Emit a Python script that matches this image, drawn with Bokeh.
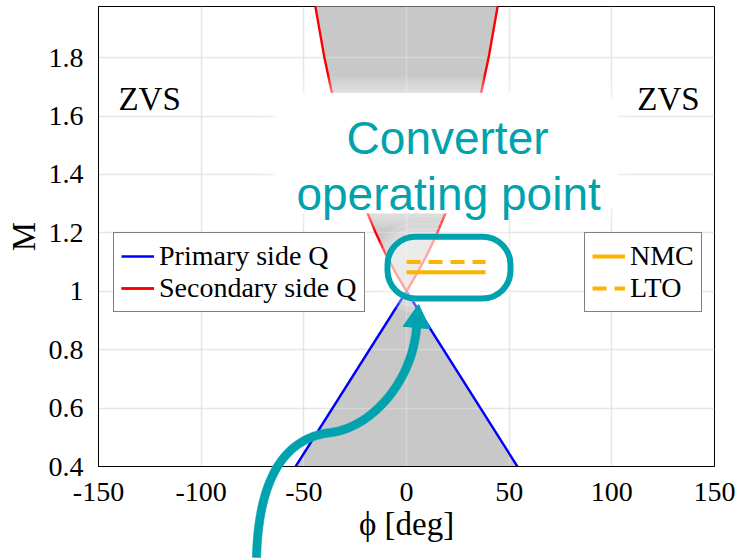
import numpy as np
from bokeh.plotting import figure
from bokeh.models import (Range1d, FixedTicker, Legend, LegendItem, BoxAnnotation,
                          Label, GridBox, Column)
from bokeh.embed import file_html
from bokeh.resources import INLINE

# ZVS boundary of the primary-side bridge (phase shift in deg vs. voltage ratio M)
primary_phi = [-54, 0, 54]
primary_M = [0.40, 1.00, 0.40]

# ZVS boundary of the secondary-side bridge (right branch; the left one is mirrored)
secondary_phi = [0, 5, 10, 15, 20, 25, 30, 35, 40, 44.5]
secondary_M = [1.00, 1.06, 1.125, 1.20, 1.285, 1.385, 1.50, 1.635, 1.80, 1.98]

# operating ranges of the two battery chemistries
nmc_phi = [0, 38.5]
nmc_M = [1.065, 1.065]
lto_phi = [0, 38.5]
lto_M = [1.10, 1.10]

x_ticks = [-150, -100, -50, 0, 50, 100, 150]
x_tick_labels = ["-150", "-100", "-50", "0", "50", "100", "150"]
y_ticks = [0.4, 0.6, 0.8, 1.0, 1.2, 1.4, 1.6, 1.8]
y_tick_labels = ["0.4", "0.6", "0.8", "1", "1.2", "1.4", "1.6", "1.8"]

region_text = ["ZVS", "ZVS"]
region_phi = [-140.3, 112.4]
region_M = [1.66, 1.66]

X_RANGE = (-150, 150)
Y_RANGE = (0.4, 1.975)

TEAL = "#00A3AD"
ORANGE = "#FFB300"
GREY = "#C8C8C8"
SERIF = "Liberation Serif"
SANS = "Liberation Sans"

W, H = 742, 559
BORDER_L, BORDER_R, BORDER_T, BORDER_B = 98, 28, 6, 93
FRAME_W = W - BORDER_L - BORDER_R
FRAME_H = H - BORDER_T - BORDER_B
SX = FRAME_W / (X_RANGE[1] - X_RANGE[0])   # px per degree
SY = FRAME_H / (Y_RANGE[1] - Y_RANGE[0])   # px per unit of M

p = figure(width=W, height=H, x_range=Range1d(*X_RANGE), y_range=Range1d(*Y_RANGE),
           output_backend="svg", toolbar_location=None,
           min_border_left=BORDER_L, min_border_right=BORDER_R,
           min_border_top=BORDER_T, min_border_bottom=BORDER_B)
p.background_fill_color = "white"
p.border_fill_color = "white"
p.outline_line_color = "black"
p.outline_line_width = 1

# axes
xa, ya = p.xaxis[0], p.yaxis[0]
xa.ticker = FixedTicker(ticks=x_ticks)
xa.major_label_overrides = dict(zip(x_ticks, x_tick_labels))
ya.ticker = FixedTicker(ticks=y_ticks)
ya.major_label_overrides = dict(zip(y_ticks, y_tick_labels))
for ax in (xa, ya):
    ax.major_tick_line_color = None
    ax.minor_tick_line_color = None
    ax.axis_line_color = "black"
    ax.major_label_text_font = SERIF
    ax.major_label_text_font_size = "28px"
    ax.major_label_text_color = "black"
    ax.axis_label_text_font = SERIF
    ax.axis_label_text_font_style = "normal"
    ax.axis_label_text_color = "black"
    ax.axis_label_text_font_size = "33px"
xa.major_label_standoff = 10
ya.major_label_standoff = 9
xa.axis_label = "ϕ [deg]"
ya.axis_label = "M"
xa.axis_label_standoff = 2
ya.axis_label_standoff = 4

p.grid.grid_line_color = "#DCDCDC"
p.grid.grid_line_alpha = 0.7
p.grid.grid_line_width = 1.5

# shaded (non-ZVS) regions
left_phi = [-v for v in secondary_phi]
upper_x = left_phi[::-1] + secondary_phi[1:]
upper_y = secondary_M[::-1] + secondary_M[1:]
p.patch(upper_x, upper_y, fill_color=GREY, line_color=None, level="image")
p.patch(primary_phi, primary_M, fill_color=GREY, line_color=None, level="image")

# boundaries
r_blue = p.line(primary_phi, primary_M, line_color="blue", line_width=2.4)
r_red_l = p.line(left_phi, secondary_M, line_color="red", line_width=2.4)
r_red_r = p.line(secondary_phi, secondary_M, line_color="red", line_width=2.4)


def px_box(left, right, bottom, top, grow):
    """Box in data units enlarged by `grow` pixels on every side."""
    return dict(left=left - grow / SX, right=right + grow / SX,
                bottom=bottom - grow / SY, top=top + grow / SY)


# soft white halo + callout box
CALL = (-63.8, 103.2, 1.266, 1.680)
for g in (16, 13, 10, 7, 4):
    p.add_layout(BoxAnnotation(**px_box(*CALL, g), fill_color="white", fill_alpha=0.1,
                               line_color=None, line_alpha=0, border_radius=22 + g))
p.add_layout(BoxAnnotation(**px_box(*CALL, 0), fill_color="white", fill_alpha=1.0,
                           line_color=None, line_alpha=0, border_radius=22))
p.add_layout(Label(x=20, y=1.526, text="Converter", text_align="center",
                   text_baseline="alphabetic", text_font=SANS,
                   text_font_size="46px", text_color=TEAL))
p.add_layout(Label(x=20.5, y=1.3346, text="operating point", text_align="center",
                   text_baseline="alphabetic", text_font=SANS,
                   text_font_size="46px", text_color=TEAL))

# halo around the operating-point frame
OP = (-9.25, 50.65, 0.975, 1.187)
for g in (14, 9, 4):
    p.add_layout(BoxAnnotation(**px_box(*OP, g), fill_color="white", fill_alpha=0.18,
                               line_color=None, line_alpha=0, border_radius=28 + g))
p.add_layout(BoxAnnotation(**px_box(*OP, 0), fill_color="white", fill_alpha=0.35,
                           line_color=None, line_alpha=0, border_radius=28))

# region labels
for x, y, txt in zip(region_phi, region_M, region_text):
    p.add_layout(Label(x=x, y=y, text=txt, text_baseline="alphabetic",
                       text_font=SERIF, text_font_size="33px", text_color="black"))

# battery operating lines
r_nmc = p.line(nmc_phi, nmc_M, line_color=ORANGE, line_width=4, level="overlay")
r_lto = p.line(lto_phi, lto_M, line_color=ORANGE, line_width=4, line_dash="14 8",
               level="overlay")

p.add_layout(BoxAnnotation(**px_box(*OP, 0), fill_color=None, fill_alpha=0,
                           line_color=TEAL, line_alpha=1, line_width=6,
                           border_radius=28, level="overlay"))

# legends
leg_common = dict(label_text_font=SERIF, label_text_font_size="28px",
                  label_text_color="black", glyph_width=33, glyph_height=26,
                  label_standoff=5, padding=7, spacing=0, margin=0,
                  border_line_color="black", border_line_width=1.2,
                  background_fill_color="white", background_fill_alpha=1)
leg1 = Legend(items=[LegendItem(label="Primary side Q", renderers=[r_blue]),
                     LegendItem(label="Secondary side Q", renderers=[r_red_l, r_red_r])],
              location=(15, 154), **leg_common)
leg2 = Legend(items=[LegendItem(label="NMC", renderers=[r_nmc]),
                     LegendItem(label="LTO", renderers=[r_lto])],
              location=(486, 154), **leg_common)
p.add_layout(leg1)
p.add_layout(leg2)

# transparent overlay sharing the same data scale, covering the whole canvas,
# so the curved pointer can run past the frame into the axis area
ov = figure(width=W, height=H,
            x_range=Range1d(X_RANGE[0] - BORDER_L / SX, X_RANGE[1] + BORDER_R / SX),
            y_range=Range1d(Y_RANGE[0] - BORDER_B / SY, Y_RANGE[1] + BORDER_T / SY),
            output_backend="svg", toolbar_location=None, min_border=0,
            x_axis_location=None, y_axis_location=None)
ov.grid.visible = False
ov.outline_line_color = None
ov.background_fill_alpha = 0
ov.border_fill_alpha = 0


def to_px(pt):
    return np.array([(pt[0] - X_RANGE[0]) * SX, (pt[1] - Y_RANGE[0]) * SY])


def to_data(arr):
    return arr[:, 0] / SX + X_RANGE[0], arr[:, 1] / SY + Y_RANGE[0]


def cubic(c, n=60):
    c = [to_px(q) for q in c]
    t = np.linspace(0, 1, n)[:, None]
    return ((1 - t) ** 3 * c[0] + 3 * (1 - t) ** 2 * t * c[1]
            + 3 * (1 - t) * t ** 2 * c[2] + t ** 3 * c[3])


seg1 = [(-73.05, 0.0885), (-72.0, 0.365), (-58.9, 0.499), (-37.0, 0.516)]
seg2 = [(-37.0, 0.516), (-16.6, 0.534), (2.9, 0.694), (4.9, 0.876)]
path = np.vstack([cubic(seg1), cubic(seg2)[1:]])
tan = np.gradient(path, axis=0)
tan /= np.linalg.norm(tan, axis=1)[:, None]
nrm = np.column_stack([-tan[:, 1], tan[:, 0]])
half = 4.2
ribbon = np.vstack([path + nrm * half, (path - nrm * half)[::-1]])
rx, ry = to_data(ribbon)
ov.patch(list(rx), list(ry), fill_color=TEAL, line_color=TEAL, line_width=0.5)

end = path[-1]
t_end, n_end = tan[-1], nrm[-1]
head = np.array([end + t_end * 23, end + n_end * 13.5, end - n_end * 13.5])
hx, hy = to_data(head)
ov.patch(list(hx), list(hy), fill_color=TEAL, line_color=TEAL, line_width=1)

layout = GridBox(children=[(Column(children=[p]), 0, 0), (Column(children=[ov]), 0, 0)])
open("out.html", "w").write(file_html(layout, INLINE))
